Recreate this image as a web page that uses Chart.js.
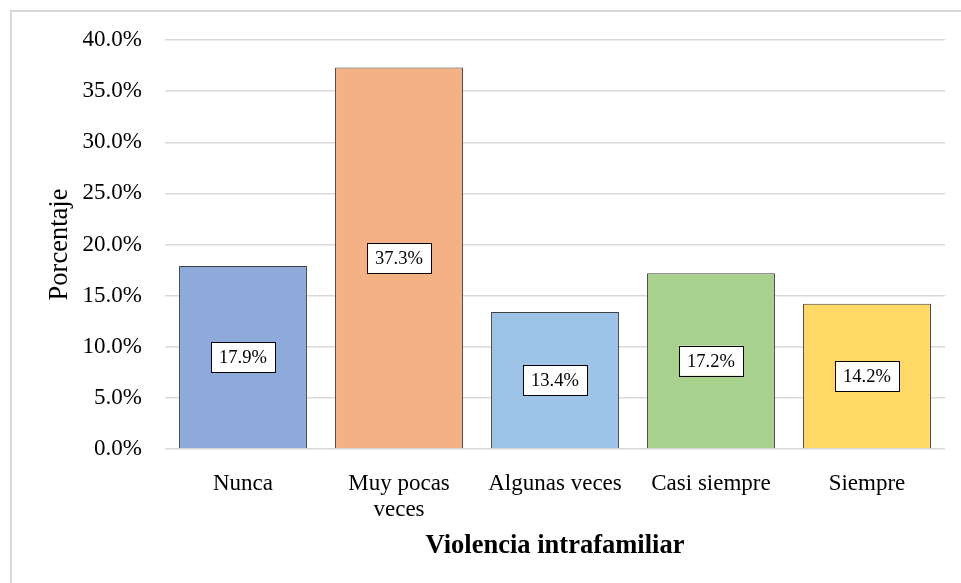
<!DOCTYPE html>
<html lang="es">
<head>
    <meta charset="UTF-8">
    <title>Violencia intrafamiliar</title>
    <script src="https://cdn.jsdelivr.net/npm/chart.js"></script>
    <style>
        html, body { margin: 0; padding: 0; background: #fff; }
        body { width: 961px; height: 583px; position: relative; overflow: hidden; }
        .marco { position: absolute; left: 10px; top: 10px; width: 1000px; height: 700px;
                 border-left: 2px solid #d9d9d9; border-top: 2px solid #d9d9d9; }
        #grafico { position: absolute; left: 0; top: 0; }
    </style>
</head>
<body>
    <div class="marco"></div>
    <canvas id="grafico" width="961" height="583"></canvas>
    <script>
        // datos
        const categorias = ["Nunca", ["Muy pocas", "veces"], "Algunas veces", "Casi siempre", "Siempre"];
        const porcentajes = [17.9, 37.3, 13.4, 17.2, 14.2];
        const colores = ["#8eaadb", "#f4b183", "#9dc3e6", "#a9d18e", "#ffd966"];
        const ticksY = [0, 5, 10, 15, 20, 25, 30, 35, 40];

        const fuente = "'Liberation Serif', 'Times New Roman', serif";

        // etiqueta con recuadro blanco en el centro de cada barra
        const etiquetas = {
            id: "etiquetas",
            afterDatasetsDraw(chart) {
                const ctx = chart.ctx;
                const meta = chart.getDatasetMeta(0);
                ctx.save();
                ctx.font = "18.5px " + fuente;
                ctx.textAlign = "center";
                ctx.textBaseline = "middle";
                meta.data.forEach((bar, i) => {
                    const txt = porcentajes[i].toFixed(1) + "%";
                    const cy = (bar.y + bar.base) / 2;
                    const w = 64, h = 30;
                    ctx.fillStyle = "#fff";
                    ctx.fillRect(bar.x - w / 2, cy - h / 2, w, h);
                    ctx.strokeStyle = "#000";
                    ctx.lineWidth = 1;
                    ctx.strokeRect(Math.round(bar.x - w / 2) + 0.5, Math.round(cy - h / 2) + 0.5, w, h);
                    ctx.fillStyle = "#000";
                    ctx.fillText(txt, bar.x, cy + 1);
                });
                ctx.restore();
            }
        };

        new Chart(document.getElementById("grafico"), {
            type: "bar",
            data: {
                labels: categorias,
                datasets: [{
                    data: porcentajes,
                    backgroundColor: colores,
                    borderColor: "#404040",
                    borderWidth: 1,
                    categoryPercentage: 0.82,
                    barPercentage: 1
                }]
            },
            options: {
                responsive: false,
                animation: false,
                layout: { padding: { top: 40, right: 16, left: 0, bottom: 0 } },
                plugins: { legend: { display: false }, tooltip: { enabled: false } },
                scales: {
                    x: {
                        grid: { display: false },
                        border: { display: false },
                        ticks: { color: "#000", padding: 14, font: { family: fuente, size: 23, lineHeight: 1.12 } },
                        title: { display: true, text: "Violencia intrafamiliar", color: "#000",
                                 font: { family: fuente, size: 26.5, weight: "bold" }, padding: { top: 0, bottom: 21 } },
                        afterFit: s => { s.height = 134; }
                    },
                    y: {
                        min: 0, max: 40,
                        afterBuildTicks: s => { s.ticks = ticksY.map(v => ({ value: v })); },
                        grid: { color: "#d9d9d9", lineWidth: 1.5, drawTicks: false },
                        border: { display: false },
                        ticks: { color: "#000", padding: 23, font: { family: fuente, size: 23 },
                                 callback: v => v.toFixed(1) + "%" },
                        title: { display: true, text: "Porcentaje", color: "#000",
                                 font: { family: fuente, size: 26.5 }, padding: { top: 44, bottom: 0 } },
                        afterFit: s => { s.width = 165; }
                    }
                }
            },
            plugins: [etiquetas]
        });
    </script>
</body>
</html>
